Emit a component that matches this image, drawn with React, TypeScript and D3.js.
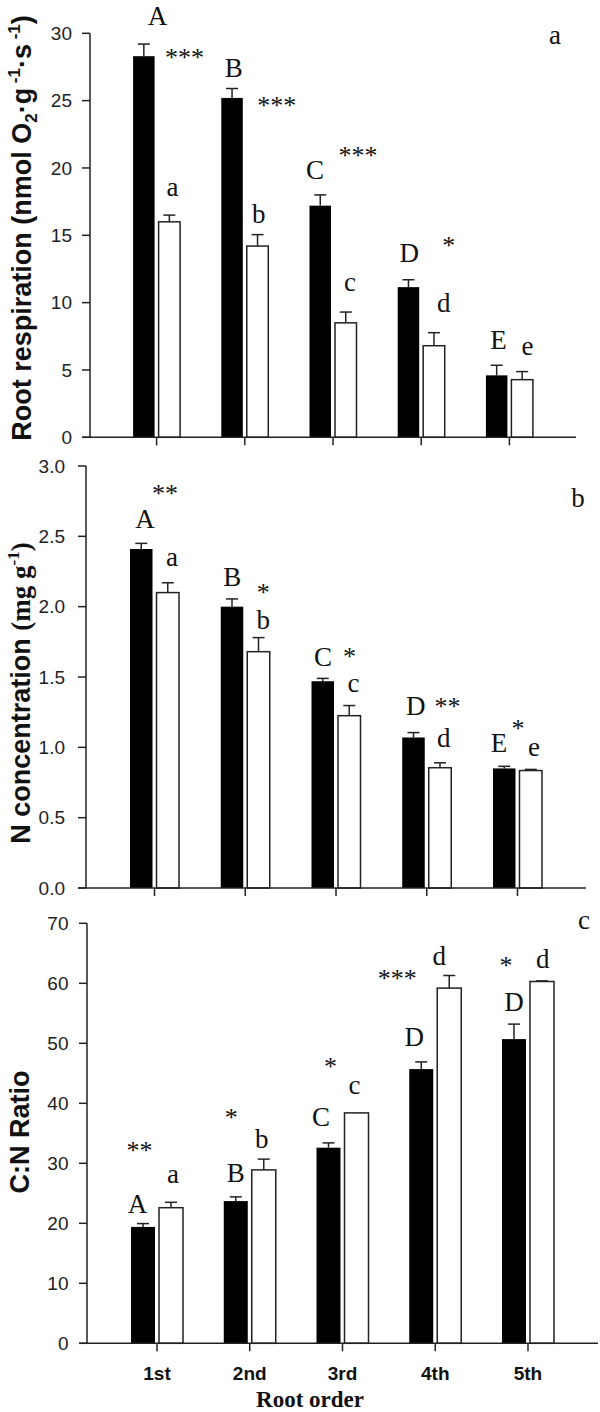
import React from 'react';
import * as d3 from 'd3';

const categories = ['1st', '2nd', '3rd', '4th', '5th'];

// Panel a: root respiration
const respBlack = [28.3, 25.2, 17.2, 11.15, 4.6];
const respBlackSE = [0.9, 0.7, 0.8, 0.55, 0.75];
const respWhite = [16.0, 14.2, 8.5, 6.8, 4.28];
const respWhiteSE = [0.5, 0.85, 0.8, 0.97, 0.6];
const respTicks = [0, 5, 10, 15, 20, 25, 30];

// Panel b: N concentration
const nBlack = [2.41, 2.0, 1.47, 1.07, 0.85];
const nBlackSE = [0.04, 0.055, 0.02, 0.035, 0.015];
const nWhite = [2.1, 1.68, 1.225, 0.855, 0.835];
const nWhiteSE = [0.07, 0.1, 0.072, 0.035, 0.008];
const nTicks = [0, 0.5, 1.0, 1.5, 2.0, 2.5, 3.0];

// Panel c: C:N ratio
const cnBlack = [19.4, 23.7, 32.6, 45.7, 50.7];
const cnBlackSE = [0.55, 0.7, 0.8, 1.2, 2.5];
const cnWhite = [22.6, 28.9, 38.4, 59.2, 60.3];
const cnWhiteSE = [0.9, 1.8, 0, 2.1, 0.1];
const cnTicks = [0, 10, 20, 30, 40, 50, 60, 70];

type Ann = { i: number; dx: number; v: number; t: string };

const respAnn: Ann[] = [
  { i: 0, dx: 1, v: 31.3, t: 'A' }, { i: 0, dx: 28, v: 28.5, t: '***' }, { i: 0, dx: 16, v: 18.35, t: 'a' },
  { i: 1, dx: -11, v: 27.4, t: 'B' }, { i: 1, dx: 32, v: 24.9, t: '***' }, { i: 1, dx: 14, v: 16.65, t: 'b' },
  { i: 2, dx: -18, v: 19.85, t: 'C' }, { i: 2, dx: 25, v: 21.2, t: '***' }, { i: 2, dx: 17, v: 11.3, t: 'c' },
  { i: 3, dx: -12, v: 13.7, t: 'D' }, { i: 3, dx: 27.5, v: 14.5, t: '*' }, { i: 3, dx: 22.5, v: 9.97, t: 'd' },
  { i: 4, dx: -11, v: 7.2, t: 'E' }, { i: 4, dx: 18, v: 6.6, t: 'e' },
];

const nAnn: Ann[] = [
  { i: 0, dx: 10.5, v: 2.83, t: '**' }, { i: 0, dx: -9.5, v: 2.62, t: 'A' }, { i: 0, dx: 17.5, v: 2.33, t: 'a' },
  { i: 1, dx: -13, v: 2.21, t: 'B' }, { i: 1, dx: 18, v: 2.13, t: '*' }, { i: 1, dx: 18, v: 1.91, t: 'b' },
  { i: 2, dx: -13, v: 1.64, t: 'C' }, { i: 2, dx: 13.5, v: 1.67, t: '*' }, { i: 2, dx: 17.5, v: 1.44, t: 'c' },
  { i: 3, dx: -11, v: 1.29, t: 'D' }, { i: 3, dx: 20.7, v: 1.32, t: '**' }, { i: 3, dx: 17, v: 1.07, t: 'd' },
  { i: 4, dx: -18.5, v: 1.03, t: 'E' }, { i: 4, dx: 0.5, v: 1.16, t: '*' }, { i: 4, dx: 16.5, v: 0.98, t: 'e' },
];

const cnAnn: Ann[] = [
  { i: 0, dx: -17.5, v: 32.7, t: '**' }, { i: 0, dx: 16, v: 27.8, t: 'a' }, { i: 0, dx: -19.5, v: 23.2, t: 'A' },
  { i: 1, dx: -18.6, v: 38.2, t: '*' }, { i: 1, dx: 12, v: 34.05, t: 'b' }, { i: 1, dx: -14, v: 28.4, t: 'B' },
  { i: 2, dx: -12, v: 46.8, t: '*' }, { i: 2, dx: 12, v: 42.55, t: 'c' }, { i: 2, dx: -21.5, v: 37.7, t: 'C' },
  { i: 3, dx: -38, v: 61.4, t: '***' }, { i: 3, dx: 4, v: 64.7, t: 'd' }, { i: 3, dx: -21, v: 51.1, t: 'D' },
  { i: 4, dx: -22, v: 63.6, t: '*' }, { i: 4, dx: 14.7, v: 64.2, t: 'd' }, { i: 4, dx: -14, v: 56.9, t: 'D' },
];

const SANS = "'Liberation Sans', Arial, sans-serif";
const SERIF = "'Liberation Serif', 'Times New Roman', serif";
const AXIS = '#222';

function baselineOffset(t: string, fs: number) {
  if (t.startsWith('*')) return 0.47 * fs;
  if (/^[A-Z]$/.test(t)) return 0.33 * fs;
  if (/^[bd]$/.test(t)) return 0.35 * fs;
  return 0.23 * fs;
}

type PanelProps = {
  yPix: [number, number];
  yMax: number;
  xRange: [number, number];
  ticks: number[];
  fmt: (v: number) => string;
  labelGap: number;
  black: number[];
  blackSE: number[];
  white: number[];
  whiteSE: number[];
  barW: number;
  blackOff: number;
  whiteOff: number;
  ann: Ann[];
  showCats?: boolean;
};

function Panel(p: PanelProps) {
  const y = d3.scaleLinear().domain([0, p.yMax]).range(p.yPix);
  const x = d3.scaleBand<string>().domain(categories).range(p.xRange).paddingInner(0).paddingOuter(0.255);
  const cx = (i: number) => (x(categories[i]) as number) + x.bandwidth() / 2;
  const y0 = y(0);
  const ax = p.xRange[0];
  const cap = 6;
  const bars = (vals: number[], se: number[], off: number, fill: string) =>
    vals.map((v, i) => {
      const bx = cx(i) + off;
      const mid = bx + p.barW / 2;
      return (
        <g key={fill + i}>
          {se[i] > 0 && (
            <g stroke={AXIS} strokeWidth={1.5}>
              <line x1={mid} x2={mid} y1={y(v)} y2={y(v + se[i])} />
              <line x1={mid - cap} x2={mid + cap} y1={y(v + se[i])} y2={y(v + se[i])} />
            </g>
          )}
          <rect x={bx} y={y(v)} width={p.barW} height={y0 - y(v)} fill={fill}
            stroke={fill === '#000' ? 'none' : AXIS} strokeWidth={1.5} />
        </g>
      );
    });
  return (
    <g>
      {bars(p.black, p.blackSE, p.blackOff, '#000')}
      {bars(p.white, p.whiteSE, p.whiteOff, '#fff')}
      <line x1={ax} x2={ax} y1={y0} y2={y(p.yMax)} stroke={AXIS} strokeWidth={1.5} />
      {p.ticks.map((t) => (
        <g key={'t' + t}>
          <line x1={ax - 8} x2={ax} y1={y(t)} y2={y(t)} stroke={AXIS} strokeWidth={1.5} />
          <text x={ax - p.labelGap} y={y(t) + 6.8} textAnchor="end" fontFamily={SANS} fontSize={19} fill={AXIS}>
            {p.fmt(t)}
          </text>
        </g>
      ))}
      <line x1={ax - 8} x2={p.xRange[1]} y1={y0} y2={y0} stroke={AXIS} strokeWidth={1.5} />
      {categories.map((c, i) => (
        <g key={'x' + c}>
          <line x1={cx(i)} x2={cx(i)} y1={y0} y2={y0 + 8} stroke={AXIS} strokeWidth={1.5} />
          {p.showCats && (
            <text x={cx(i)} y={y0 + 37} textAnchor="middle" fontFamily={SANS} fontWeight="bold" fontSize={19} fill="#111">
              {c}
            </text>
          )}
        </g>
      ))}
      {p.ann.map((a, k) => {
        const fs = a.t.startsWith('*') ? 26 : 27;
        return (
          <text key={'a' + k} x={cx(a.i) + a.dx} y={y(a.v) + baselineOffset(a.t, fs)} textAnchor="middle"
            fontFamily={SERIF} fontSize={fs} fill="#111">
            {a.t}
          </text>
        );
      })}
    </g>
  );
}

export default function App() {
  return (
    <svg width={600} height={1412} style={{ position: 'absolute', left: 0, top: 0, background: '#fff' }}>
      <rect width={600} height={1412} fill="#fff" />
      <Panel yPix={[437.3, 33.3]} yMax={30} xRange={[90, 576]} ticks={respTicks} fmt={d3.format('d')} labelGap={18}
        black={respBlack} blackSE={respBlackSE} white={respWhite} whiteSE={respWhiteSE}
        barW={21.5} blackOff={-23.5} whiteOff={2} ann={respAnn} />
      <Panel yPix={[888, 466]} yMax={3} xRange={[86, 586]} ticks={nTicks} fmt={d3.format('.1f')} labelGap={21}
        black={nBlack} blackSE={nBlackSE} white={nWhite} whiteSE={nWhiteSE}
        barW={22.5} blackOff={-24.5} whiteOff={2} ann={nAnn} />
      <Panel yPix={[1343.3, 923.3]} yMax={70} xRange={[87, 598]} ticks={cnTicks} fmt={d3.format('d')} labelGap={18.5}
        black={cnBlack} blackSE={cnBlackSE} white={cnWhite} whiteSE={cnWhiteSE}
        barW={24} blackOff={-26} whiteOff={2} ann={cnAnn} showCats />

      <text x={555} y={44} textAnchor="middle" fontFamily={SERIF} fontSize={27} fill="#111">a</text>
      <text x={578} y={507} textAnchor="middle" fontFamily={SERIF} fontSize={27} fill="#111">b</text>
      <text x={584} y={929} textAnchor="middle" fontFamily={SERIF} fontSize={27} fill="#111">c</text>

      <text transform="translate(31,228) rotate(-90)" textAnchor="middle" fontFamily={SANS} fontWeight="bold" fontSize={27} fill="#111">
        Root respiration (nmol O<tspan fontSize={17} dy={6}>2</tspan><tspan dy={-6}>·g</tspan>
        <tspan fontSize={17} dy={-11}> -1</tspan><tspan dy={11}>·s</tspan>
        <tspan fontSize={17} dy={-11}> -1</tspan><tspan dy={11}>)</tspan>
      </text>
      <text transform="translate(30,693) rotate(-90)" textAnchor="middle" fontWeight="bold" fill="#111">
        <tspan fontFamily={SANS} fontSize={27}>N concentration </tspan>
        <tspan fontFamily={SERIF} fontSize={27}>(mg g</tspan>
        <tspan fontFamily={SERIF} fontSize={17} dy={-11}>-1</tspan>
        <tspan fontFamily={SERIF} fontSize={27} dy={11}>)</tspan>
      </text>
      <text transform="translate(29,1132) rotate(-90)" textAnchor="middle" fontFamily={SANS} fontWeight="bold" fontSize={27} fill="#111">
        C:N Ratio
      </text>

      <text x={310} y={1407} textAnchor="middle" fontFamily={SERIF} fontWeight="bold" fontSize={23} fill="#111">Root order</text>
    </svg>
  );
}
